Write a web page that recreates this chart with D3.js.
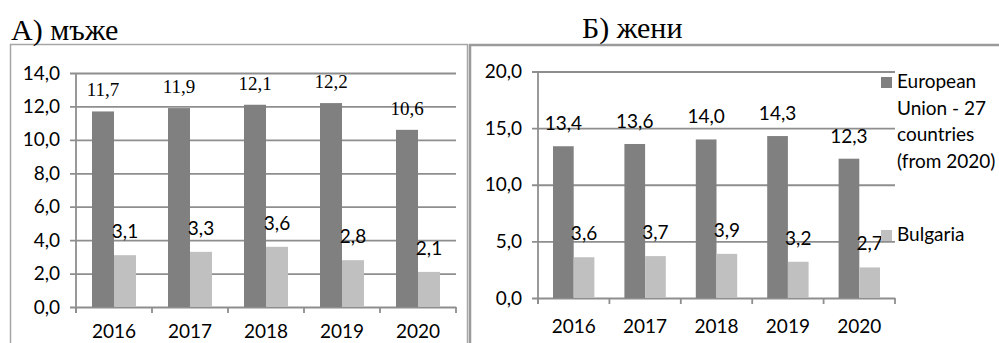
<!DOCTYPE html>
<html>
<head>
<meta charset="utf-8">
<script src="https://cdn.jsdelivr.net/npm/d3@7/dist/d3.min.js"></script>
<style>
  html, body { margin: 0; padding: 0; background: #fff; }
  svg { display: block; }
</style>
</head>
<body>
<svg id="chart" width="999" height="343"></svg>
<script>
// Years shown on both panels
const years = ["2016", "2017", "2018", "2019", "2020"];

// Panel A – men
const menEU = [11.7, 11.9, 12.1, 12.2, 10.6];
const menBG = [3.1, 3.3, 3.6, 2.8, 2.1];
const menTicks = [0, 2, 4, 6, 8, 10, 12, 14];

// Panel B – women
const womenEU = [13.4, 13.6, 14.0, 14.3, 12.3];
const womenBG = [3.6, 3.7, 3.9, 3.2, 2.7];
const womenTicks = [0, 5, 10, 15, 20];

// Legend entries
const seriesNames = ["European Union - 27 countries (from 2020)", "Bulgaria"];
const legendLines = [["European", "Union - 27", "countries", "(from 2020)"], ["Bulgaria"]];
const panelTitles = ["А) мъже", "Б) жени"];

const COL_EU = "#808080";
const COL_BG = "#c0c0c0";
const GRID = "#8e8e8e";
const SANS = "Lato, 'Open Sans', sans-serif";
const SERIF = "'Liberation Serif', 'DejaVu Serif', serif";

const fmt = v => d3.format(".1f")(v).replace(".", ",");

const svg = d3.select("#chart");

// Chart frames
svg.append("rect")
  .attr("x", 10.5).attr("y", 44.5).attr("width", 457).attr("height", 330)
  .attr("fill", "none").attr("stroke", "#a6a6a6").attr("stroke-width", 1.5);
svg.append("rect")
  .attr("x", 470).attr("y", 45).attr("width", 560).attr("height", 330)
  .attr("fill", "none").attr("stroke", "#9a9a9a").attr("stroke-width", 2.5);

// Panel titles
svg.append("text").attr("x", 11).attr("y", 40)
  .attr("font-family", SERIF).attr("font-size", 30).attr("fill", "#000")
  .text(panelTitles[0]);
svg.append("text").attr("x", 582).attr("y", 38)
  .attr("font-family", SERIF).attr("font-size", 30).attr("fill", "#000")
  .text(panelTitles[1]);

function drawPanel(cfg) {
  const g = svg.append("g");
  const x = d3.scaleBand().domain(years).range([cfg.left, cfg.right])
    .paddingInner(cfg.pad).paddingOuter(cfg.pad / 2);
  const xs = d3.scaleBand().domain([0, 1]).range([0, x.bandwidth()]);
  const y = d3.scaleLinear().domain([0, cfg.max]).range([cfg.bottom, cfg.top]);
  const step = (cfg.right - cfg.left) / years.length;

  // Horizontal gridlines with left tick marks
  const yAxis = d3.axisLeft(y).tickValues(cfg.ticks)
    .tickSize(-(cfg.right - cfg.left)).tickFormat(fmt).tickPadding(16);
  const ya = g.append("g").attr("transform", `translate(${cfg.left},0)`).call(yAxis);
  ya.select(".domain").remove();
  ya.selectAll(".tick line").attr("stroke", GRID).attr("stroke-width", 1.8)
    .attr("x1", -6);
  ya.selectAll(".tick text").attr("font-family", SANS).attr("font-size", 19)
    .attr("fill", "#000").attr("dx", 0);

  // Vertical axis line
  g.append("line").attr("x1", cfg.left).attr("x2", cfg.left)
    .attr("y1", y(cfg.max)).attr("y2", cfg.bottom + 6)
    .attr("stroke", GRID).attr("stroke-width", 1.8);

  // Category boundary ticks below the baseline
  const bounds = d3.range(years.length + 1).map(i => cfg.left + i * step);
  g.selectAll("line.xt").data(bounds).join("line").attr("class", "xt")
    .attr("x1", d => d).attr("x2", d => d)
    .attr("y1", cfg.bottom).attr("y2", cfg.bottom + 6)
    .attr("stroke", GRID).attr("stroke-width", 1.8);

  // Year labels
  g.selectAll("text.yr").data(years).join("text").attr("class", "yr")
    .attr("x", d => x(d) + x.bandwidth() / 2).attr("y", cfg.bottom + cfg.yearDy)
    .attr("text-anchor", "middle").attr("font-family", SANS).attr("font-size", 19)
    .attr("fill", "#000").text(d => d);

  const series = [cfg.eu, cfg.bg];
  const colors = [COL_EU, COL_BG];
  series.forEach((vals, s) => {
    g.selectAll(null).data(vals).join("rect")
      .attr("x", (d, i) => x(years[i]) + xs(s))
      .attr("width", xs.bandwidth())
      .attr("y", d => y(d))
      .attr("height", d => cfg.bottom - y(d))
      .attr("fill", colors[s]);
  });

  // Value labels
  g.selectAll(null).data(cfg.eu).join("text")
    .attr("x", (d, i) => x(years[i]) + xs(0) + xs.bandwidth() / 2)
    .attr("y", d => y(d) - cfg.euDy)
    .attr("text-anchor", "middle")
    .attr("font-family", cfg.euFont).attr("font-size", 19).attr("fill", "#000")
    .text(fmt);
  g.selectAll(null).data(cfg.bg).join("text")
    .attr("x", (d, i) => x(years[i]) + xs(1) + xs.bandwidth() / 2)
    .attr("y", d => y(d) - 17)
    .attr("text-anchor", "middle")
    .attr("font-family", SANS).attr("font-size", 19).attr("fill", "#000")
    .text(fmt);
}

drawPanel({
  left: 76, right: 456, top: 73, bottom: 307, max: 14, ticks: menTicks,
  pad: 32 / 76, eu: menEU, bg: menBG, euFont: SERIF, euDy: 15, yearDy: 31
});
drawPanel({
  left: 538, right: 895, top: 71.5, bottom: 298, max: 20, ticks: womenTicks,
  pad: 30 / 71.4, eu: womenEU, bg: womenBG, euFont: SANS, euDy: 16, yearDy: 35
});

// Legend
const legend = svg.append("g");
const legendTop = [88, 241];
[COL_EU, COL_BG].forEach((c, i) => {
  legend.append("rect").attr("x", 881).attr("y", legendTop[i] - 11)
    .attr("width", 11).attr("height", 11).attr("fill", c);
  legendLines[i].forEach((t, k) => {
    legend.append("text").attr("x", 897).attr("y", legendTop[i] + k * 26.5)
      .attr("font-family", SANS).attr("font-size", 19).attr("fill", "#000").text(t);
  });
});
</script>
</body>
</html>
